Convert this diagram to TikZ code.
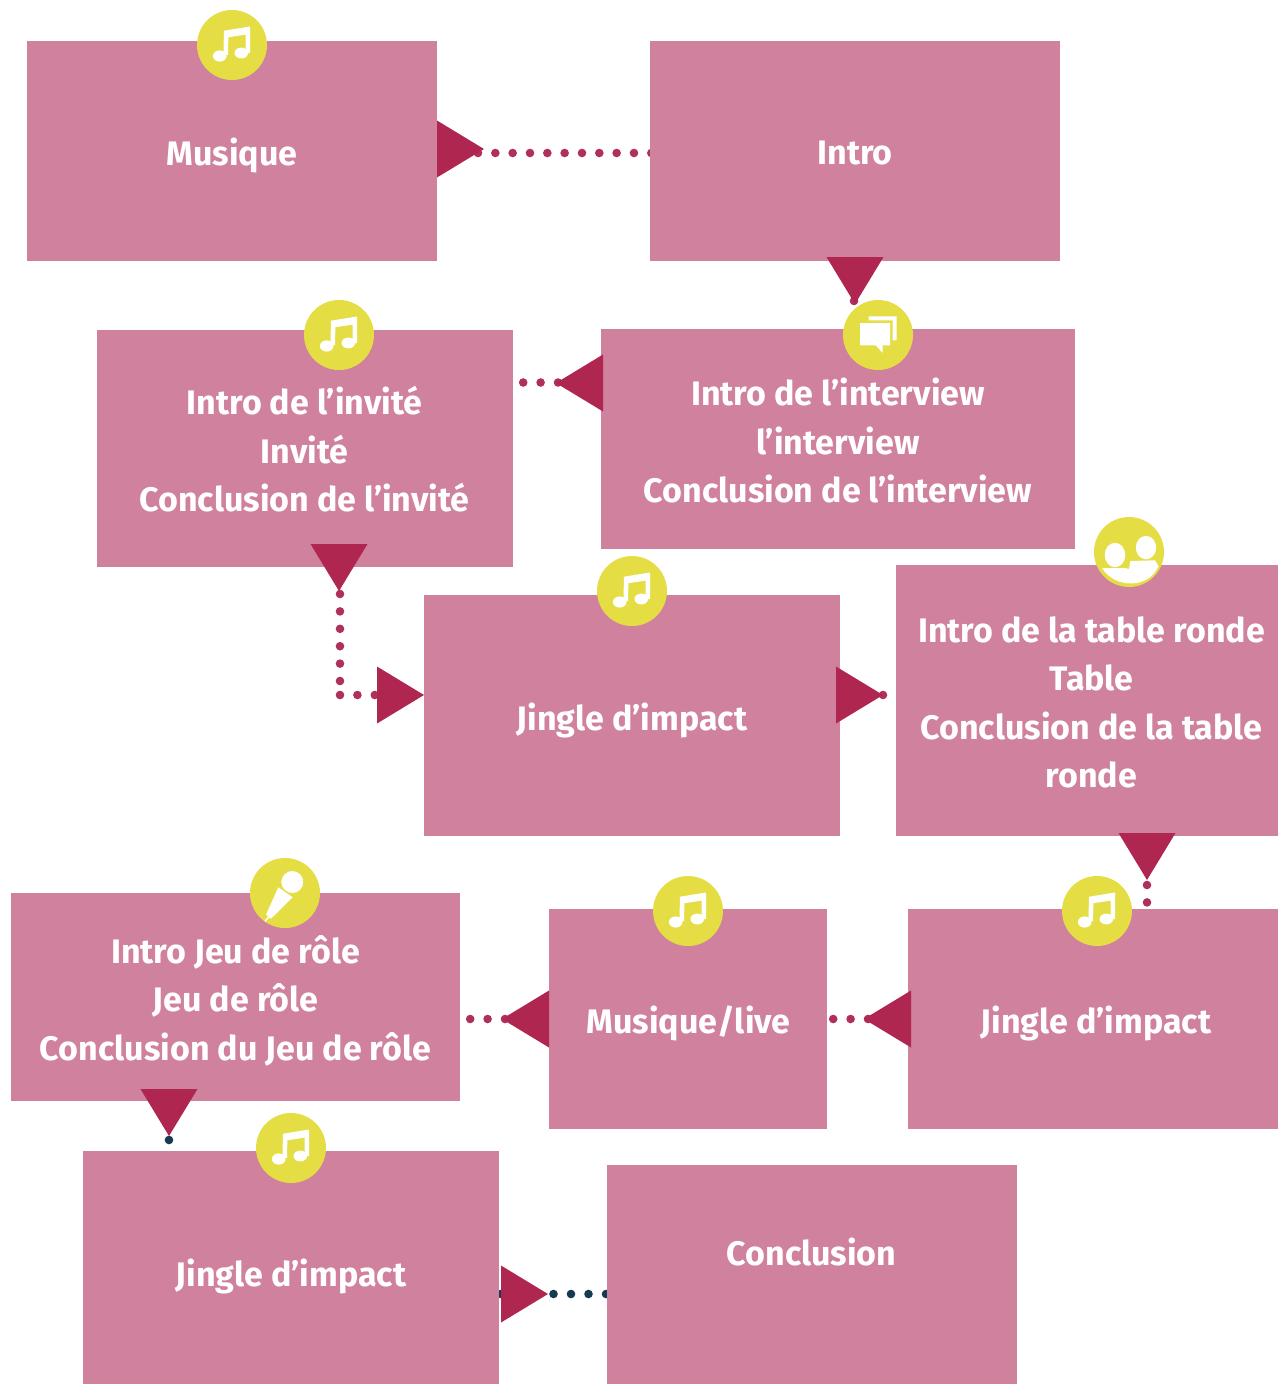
\documentclass[tikz,border=0pt]{standalone}
\usepackage{fontspec}
\setmainfont{Fira Sans}
\usepackage{xcolor}
\usetikzlibrary{shapes.geometric, backgrounds}
\definecolor{boxpink}{HTML}{D0819D}
\definecolor{tricrimson}{HTML}{AF2651}
\definecolor{dotcrimson}{HTML}{B0305C}
\definecolor{dotnavy}{HTML}{163A50}
\definecolor{badgeyellow}{HTML}{E5DD44}
\tikzset{
  box/.style={rectangle, fill=boxpink, inner sep=0pt, outer sep=0pt},
  boxlabel/.style={text=white, align=center, inner sep=0pt, font=\fontsize{34}{48.5}\selectfont\bfseries},
  tri/.style={isosceles triangle, isosceles triangle stretches, fill=tricrimson, inner sep=0pt, outer sep=0pt, minimum width=57, minimum height=47, anchor=apex},
  dotlink/.style={dotcrimson, line width=8.6pt, line cap=round, dash pattern=on 0pt off 17.4pt},
  badge/.style={circle, fill=badgeyellow, inner sep=0pt, outer sep=0pt, minimum size=70},
  noteicon/.pic={
    \fill[white] (-8,-14.3)--(18,-18.5)--(18,8)--(13.6,8)--(13.6,-10.4)--(-3.6,-7.8)--(-4,10)--(-8.6,10)--cycle;
    \fill[white] (-12.3,11) ellipse (6.8 and 5.6);
    \fill[white] (9.3,8) ellipse (6.8 and 5.4);
  },
  bubbleicon/.pic={
    \fill[white] (-9.3,-18.7)--(18.7,-18.7)--(18.7,5.3)--(14.7,5.3)--(14.7,-14.7)--(-9.3,-14.7)--cycle;
    \fill[white] (-18,-12)--(12,-12)--(12,10.3)--(4.7,10.3)--(4.7,18)--(-2.3,10.3)--(-18,10.3)--cycle;
  },
  peopleicon/.pic={
    \fill[white] (-14,3) ellipse (10.3 and 12.2);
    \fill[white] (17,-4.4) ellipse (10.2 and 11.7);
    \fill[white] (-27,16)--(-4,16)--(0,17)--(1.3,9)--(26,8.3)--(29.5,14) .. controls (20,37) and (-14,37) .. (-27,16)--cycle;
  },
  micicon/.pic={
    \fill[white] (-6.7,-5.7)--(7.7,4.3)--(-14,25.7)--(-19,21.7)--cycle;
    \draw[white, line width=1.5pt] (-15.7,23.3)--(-20,28.3);
    \fill[white, draw=badgeyellow, line width=1pt] (7.3,-11) circle (11.6);
  }
}
\begin{document}
\begin{tikzpicture}[x=1pt,y=-1pt]
\useasboundingbox (0,0) rectangle (1278,1384);
% boxes
\node[box, minimum width=410, minimum height=220] (musique) at (232,151) {};
\node[box, minimum width=410, minimum height=220] (intro) at (855,151) {};
\node[box, minimum width=416, minimum height=237] (invite) at (305,448.5) {};
\node[box, minimum width=474, minimum height=220] (interview) at (838,439) {};
\node[box, minimum width=416, minimum height=241] (jingleA) at (632,715.5) {};
\node[box, minimum width=382, minimum height=271] (table) at (1087,700.5) {};
\node[box, minimum width=370, minimum height=220] (jingleB) at (1093,1019) {};
\node[box, minimum width=278, minimum height=220] (live) at (688,1019) {};
\node[box, minimum width=449, minimum height=208] (jeu) at (235.5,997) {};
\node[box, minimum width=416, minimum height=233] (jingleC) at (291,1267.5) {};
\node[box, minimum width=410, minimum height=219] (conclusion) at (812,1274.5) {};
% texts
\node[boxlabel] (musiqueText) at (232,155.5) {Musique};
\node[boxlabel] (introText) at (855,153.5) {Intro};
\node[boxlabel] (inviteText) at (304.5,449.5) {Intro de l’invité\\Invité\\Conclusion de l’invité};
\node[boxlabel] (interviewText) at (838,440.5) {Intro de l’interview\\l’interview\\Conclusion de l’interview};
\node[boxlabel] (jingleAText) at (632,720.5) {Jingle d’impact};
\node[boxlabel] (tableText) at (1091.5,702.5) {Intro de la table ronde\\Table\\Conclusion de la table\\ronde};
\node[boxlabel] (jingleBText) at (1096,1023.5) {Jingle d’impact};
\node[boxlabel] (liveText) at (688.5,1023.5) {Musique/live};
\node[boxlabel] (jeuText) at (235.5,1000.5) {Intro Jeu de rôle\\Jeu de rôle\\Conclusion du Jeu de rôle};
\node[boxlabel] (jingleCText) at (291,1276.5) {Jingle d’impact};
\node[boxlabel] (conclusionText) at (811.5,1252) {Conclusion};
% triangles
\node[tri] (triA) at (484,149) {};
\node[tri, shape border rotate=-90] (triB) at (855,304) {};
\node[tri, shape border rotate=180] (triC) at (556,383) {};
\node[tri, shape border rotate=-90] (triD) at (339,591) {};
\node[tri] (triE) at (424,695) {};
\node[tri] (triF) at (883,695) {};
\node[tri, shape border rotate=-90] (triG) at (1147,880) {};
\node[tri, shape border rotate=180] (triH) at (864,1019) {};
\node[tri, shape border rotate=180] (triI) at (502,1019) {};
\node[tri, shape border rotate=-90] (triJ) at (169,1136) {};
\node[tri] (triK) at (548,1294) {};
% dotted links
\coordinate (startA) at (478,153);
\coordinate (startB) at (854,301);
\coordinate (startC) at (558,382.5);
\coordinate (startD) at (340,594);
\coordinate (cornerD) at (340,695);
\coordinate (startE) at (883,695);
\coordinate (startF) at (1147,885);
\coordinate (startG) at (868,1019);
\coordinate (startH) at (505,1019);
\coordinate (startI) at (169,1140);
\coordinate (startJ) at (501,1294);
\begin{scope}[on background layer]
\draw[dotlink, dash pattern=on 0pt off 17.33pt] (startA) -- ([xshift=3pt]intro.west |- startA);
\draw[dotlink] (startB) -- (startB |- interview.north);
\draw[dotlink] (startC) -- (invite.east |- startC);
\draw[dotlink] (startD) -- ([yshift=8pt]startD |- triE.west);
\draw[dotlink] (cornerD) -- (triE.west);
\draw[dotlink] (startE) -- (table.west |- startE);
\draw[dotlink] (startF) -- (startF |- jingleB.north);
\draw[dotlink] (startG) -- (live.east |- startG);
\draw[dotlink] (startH) -- (jeu.east |- startH);
\draw[dotlink, dotnavy] (startI) -- (startI |- jingleC.north);
\draw[dotlink, dotnavy, dash pattern=on 0pt off 17.5pt] (startJ) -- ([xshift=2pt]conclusion.west |- startJ);
\end{scope}
% badges
\node[badge] (badgeA) at (232,45) {};
\node[badge] (badgeB) at (878,335) {};
\node[badge] (badgeC) at (339,335) {};
\node[badge] (badgeD) at (632,591) {};
\node[badge] (badgeE) at (1129,552) {};
\node[badge] (badgeF) at (1097,911) {};
\node[badge] (badgeG) at (688,911) {};
\node[badge] (badgeH) at (285,893) {};
\node[badge] (badgeI) at (291,1148) {};
\pic at (badgeA) {noteicon};
\pic at (badgeB) {bubbleicon};
\pic at (badgeC) {noteicon};
\pic at (badgeD) {noteicon};
\pic at (badgeE) {peopleicon};
\pic at (badgeF) {noteicon};
\pic at (badgeG) {noteicon};
\pic at (badgeH) {micicon};
\pic at (badgeI) {noteicon};
\end{tikzpicture}
\end{document}
